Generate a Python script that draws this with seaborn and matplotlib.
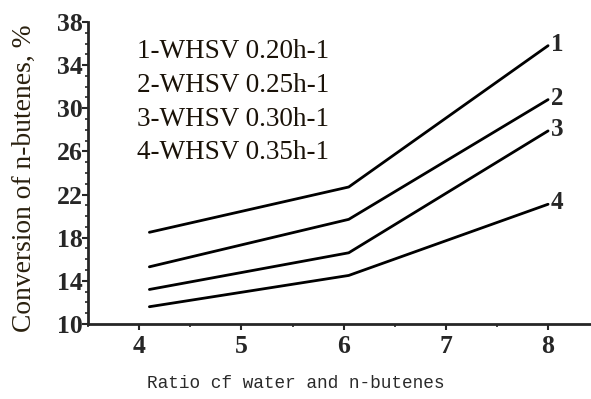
import matplotlib
matplotlib.use("Agg")
import matplotlib.pyplot as plt
import seaborn as sns
import pandas as pd
from matplotlib.ticker import MultipleLocator

ratio = [4.1, 6.05, 8.0]
conv_020 = [18.5, 22.7, 35.8]
conv_025 = [15.3, 19.7, 30.8]
conv_030 = [13.2, 16.6, 27.9]
conv_035 = [11.6, 14.5, 21.1]
series_ids = ["1", "2", "3", "4"]
legend_lines = ["1-WHSV 0.20h-1", "2-WHSV 0.25h-1", "3-WHSV 0.30h-1", "4-WHSV 0.35h-1"]
y_ticks = [10, 14, 18, 22, 26, 30, 34, 38]
x_ticks = [4, 5, 6, 7, 8]

rows = []
for sid, vals in zip(series_ids, [conv_020, conv_025, conv_030, conv_035]):
    for x, y in zip(ratio, vals):
        rows.append({"ratio": x, "conv": y, "series": sid})
df = pd.DataFrame(rows)

sns.set_style("ticks")
plt.rcParams["font.family"] = ["Liberation Serif", "DejaVu Serif"]

fig = plt.figure(figsize=(5.91, 3.99), dpi=100)
ax = fig.add_axes([0.149, 0.188, 0.851, 0.757])
sns.lineplot(data=df, x="ratio", y="conv", hue="series",
             palette=["black"] * 4, linewidth=2.0, legend=False, ax=ax)

ax.set_xlim(3.5, 8.42)
ax.set_ylim(10, 38)
ax.set_xticks(x_ticks)
ax.set_yticks(y_ticks)
ax.xaxis.set_minor_locator(MultipleLocator(0.5))
ax.yaxis.set_minor_locator(MultipleLocator(1))
ax.tick_params(axis="both", which="major", direction="out", length=4, width=1.5,
               labelsize=18.5, pad=0)
ax.tick_params(axis="both", which="minor", direction="out", length=2, width=1.2)
for lab in ax.get_xticklabels() + ax.get_yticklabels():
    lab.set_fontweight("bold")
ax.tick_params(axis="x", pad=4)
for s in ["top", "right"]:
    ax.spines[s].set_visible(False)
ax.spines["left"].set_linewidth(2)
ax.spines["bottom"].set_linewidth(2)

ax.set_xlabel("")
ax.set_ylabel("")
fig.text(0.041, 0.554, "Conversion of n-butenes, %", rotation=90, ha="center", va="center",
         fontsize=19.8, color="#2a200e", family=["Liberation Serif"])
fig.text(0.50, 0.04, "Ratio cf water and n-butenes", ha="center", va="center",
         fontsize=12.8, color="#2a2a2a", family=["Liberation Mono"])

leg_y = [51, 85, 119, 153]
for txt, yp in zip(legend_lines, leg_y):
    fig.text(137 / 591, 1 - yp / 399, txt, ha="left", va="center", fontsize=19.5,
             color="#1a1208")

for sid, vals in zip(series_ids, [conv_020, conv_025, conv_030, conv_035]):
    ax.annotate(sid, (ratio[-1], vals[-1]), xytext=(2, 1), textcoords="offset points",
                ha="left", va="center", fontsize=18, fontweight="bold")

fig.savefig("out.png", dpi=100)
